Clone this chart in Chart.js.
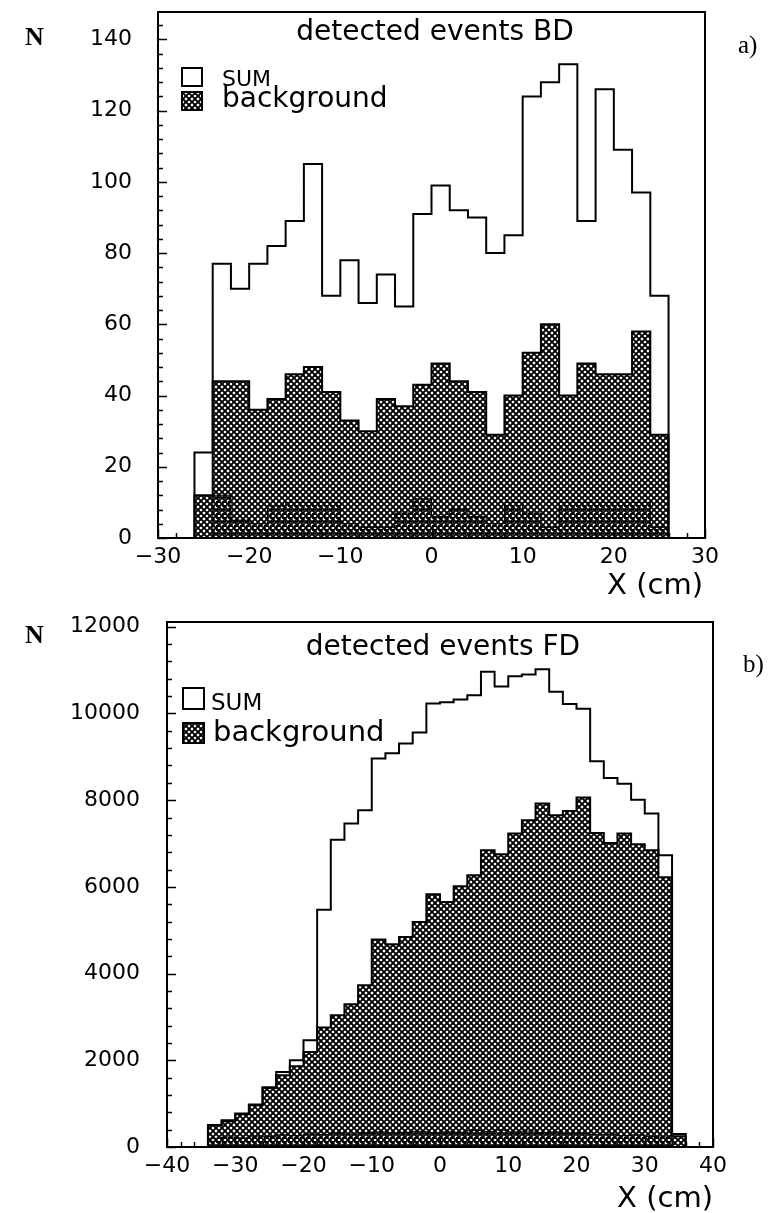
<!DOCTYPE html>
<html><head><meta charset="utf-8">
<script src="https://cdn.jsdelivr.net/npm/chart.js@4/dist/chart.umd.min.js"></script>
<style>
html,body{margin:0;padding:0;background:#fff;}
#wrap{position:relative;width:773px;height:1213px;overflow:hidden;background:#fff;}
canvas{position:absolute;left:0;}
svg{position:absolute;left:0;top:0;pointer-events:none;}
</style></head>
<body><div id="wrap">
<canvas id="ca" width="773" height="600" style="top:0px"></canvas>
<canvas id="cb" width="773" height="613" style="top:600px"></canvas>
<svg width="773" height="1213" xmlns="http://www.w3.org/2000/svg">
<defs>
<pattern id="xh" width="6" height="6" patternUnits="userSpaceOnUse">
<rect width="6" height="6" fill="#fff"/>
<path d="M-6,0L6,12M0,0L6,6M0,-6L12,6M0,6L6,0M-6,6L6,-6M0,12L12,0" stroke="#000" stroke-width="1.9"/>
</pattern>
</defs>
<g font-family="DejaVu Sans, sans-serif" fill="#000">
<text x="25" y="45" font-family="Liberation Serif, serif" font-weight="bold" font-size="26">N</text>
<text x="738" y="53" font-family="Liberation Serif, serif" font-size="25">a)</text>
<text x="435" y="40" text-anchor="middle" font-size="28">detected events BD</text>
<rect x="182" y="68" width="20" height="18" fill="#fff" stroke="#000" stroke-width="2"/>
<text x="222" y="86" font-size="22">SUM</text>
<rect x="182" y="92" width="20" height="18" fill="url(#xh)" stroke="#000" stroke-width="2"/>
<text x="222" y="107" font-size="28">background</text>
<text x="703" y="594" text-anchor="end" font-size="29">X (cm)</text>

<text x="25" y="643" font-family="Liberation Serif, serif" font-weight="bold" font-size="26">N</text>
<text x="743" y="672" font-family="Liberation Serif, serif" font-size="25">b)</text>
<text x="443" y="655" text-anchor="middle" font-size="28">detected events FD</text>
<rect x="183" y="688" width="21" height="21" fill="#fff" stroke="#000" stroke-width="2"/>
<text x="211" y="710" font-size="23">SUM</text>
<rect x="183" y="723" width="21" height="20" fill="url(#xh)" stroke="#000" stroke-width="2"/>
<text x="213" y="741" font-size="29">background</text>
<text x="713" y="1207" text-anchor="end" font-size="29">X (cm)</text>
</g>
</svg>
</div>
<script>
// ---------- panel a: detected events BD ----------
const binWidth = 2;
const aEdges = [-26,-24,-22,-20,-18,-16,-14,-12,-10,-8,-6,-4,-2,0,2,4,6,8,10,12,14,16,18,20,22,24];
const aSum   = [24,77,70,77,82,89,105,68,78,66,74,65,91,99,92,90,80,85,124,128,133,89,126,109,97,68];
const aBg    = [12,44,44,36,39,46,48,41,33,30,39,37,43,49,44,41,29,40,52,60,40,49,46,46,58,29];
const aLow   = [0,12,5,4,9,10,10,10,4,3,3,7,11,6,8,6,4,10,7,3,10,10,10,10,10,3];
const aXTickVals = [-30,-20,-10,0,10,20,30];
const aYTickVals = [0,20,40,60,80,100,120,140];
const aXTicks = {min:-30, max:30, step:10, minor:2};
const aYTicks = {min:0, max:147.7, step:20, minor:4};

// ---------- panel b: detected events FD ----------
const bEdges = [-34,-32,-30,-28,-26,-24,-22,-20,-18,-16,-14,-12,-10,-8,-6,-4,-2,0,2,4,6,8,10,12,14,16,18,20,22,24,26,28,30,32,34];
const bSum   = [510,615,770,980,1380,1730,2000,2460,5475,7090,7460,7770,8960,9080,9310,9560,10230,10260,10320,10420,10960,10620,10860,10900,11020,10500,10220,10110,8900,8510,8380,8010,7690,6730,300];
const bBg    = [500,593,754,962,1361,1654,1862,2191,2754,3038,3292,3730,4784,4676,4844,5190,5829,5652,6014,6268,6844,6752,7229,7536,7921,7651,7751,8060,7243,7013,7229,6983,6844,6221,250];
const bLow   = [200,230,210,250,240,280,260,300,290,320,300,330,350,320,340,360,330,350,340,380,360,390,350,370,330,350,310,320,290,300,260,280,240,230,0];
const bXTickVals = [-40,-30,-20,-10,0,10,20,30,40];
const bYTickVals = [0,2000,4000,6000,8000,10000,12000];
const bXTicks = {min:-40, max:40, step:10, minor:2};
const bYTicks = {min:0, max:12110, step:2000, minor:400};

function hist(edges, vals){
  const pts = [{x:edges[0], y:0}];
  edges.forEach((e,i)=>pts.push({x:e, y:vals[i]}));
  pts.push({x:edges[edges.length-1]+binWidth, y:0});
  return pts;
}
function crossHatch(){
  const c=document.createElement('canvas'); c.width=6; c.height=6;
  const g=c.getContext('2d'); g.fillStyle='#fff'; g.fillRect(0,0,6,6);
  g.strokeStyle='#000'; g.lineWidth=1.9; g.beginPath();
  for (const k of [-6,0,6]) { g.moveTo(k,0); g.lineTo(k+6,6); g.moveTo(k+6,0); g.lineTo(k,6); }
  g.stroke();
  return g.createPattern(c,'repeat');
}
function dashHatch(){
  const c=document.createElement('canvas'); c.width=6; c.height=4;
  const g=c.getContext('2d'); g.fillStyle='#000'; g.fillRect(0,1,4,1.8);
  return g.createPattern(c,'repeat');
}
const minus = v => (v<0 ? '\u2212'+Math.abs(v) : String(v));

const frameTicks = {
  id:'frameTicks',
  afterDatasetsDraw(chart, args, o){
    const {ctx, chartArea:{left,top,right,bottom}, scales:{x,y}} = chart;
    ctx.save(); ctx.strokeStyle='#000'; ctx.lineWidth=2;
    ctx.strokeRect(left, top, right-left, bottom-top);
    ctx.lineWidth=1.5;
    const isMaj=(v,s)=>Math.abs(v/s-Math.round(v/s))<1e-6;
    for (let v=o.y.min; v<=o.y.max+1e-9; v+=o.y.minor){
      const p=Math.round(y.getPixelForValue(v))+0.5;
      ctx.beginPath(); ctx.moveTo(left,p); ctx.lineTo(left+(isMaj(v,o.y.step)?9:5),p); ctx.stroke();
    }
    for (let v=o.x.min; v<=o.x.max+1e-9; v+=o.x.minor){
      const p=Math.round(x.getPixelForValue(v))+0.5;
      ctx.beginPath(); ctx.moveTo(p,bottom); ctx.lineTo(p,bottom-(isMaj(v,o.x.step)?9:5)); ctx.stroke();
    }
    ctx.restore();
  }
};

function makeChart(id, edges, sum, bg, low, xt, yt, xVals, yVals, geo){
  const ctx=document.getElementById(id).getContext('2d');
  const font={family:'DejaVu Sans', size:22, lineHeight:1};
  return new Chart(ctx,{
    type:'line',
    data:{datasets:[
      {label:'SUM', data:hist(edges,sum), stepped:true, borderColor:'#000', borderWidth:2, fill:false, pointRadius:0, order:0},
      {label:'low', data:hist(edges,low), stepped:true, borderColor:'#000', borderWidth:1, backgroundColor:dashHatch(), fill:'origin', pointRadius:0, order:1},
      {label:'background', data:hist(edges,bg), stepped:true, borderColor:'#000', borderWidth:2, backgroundColor:crossHatch(), fill:'origin', pointRadius:0, order:2}
    ]},
    options:{
      responsive:false, animation:false, events:[],
      layout:{autoPadding:false, padding:{left:0, top:geo.top, right:geo.right, bottom:0}},
      plugins:{legend:{display:false}, tooltip:{enabled:false}, frameTicks:{x:xt, y:yt}},
      scales:{
        x:{type:'linear', min:xt.min, max:xt.max,
           afterBuildTicks:s=>{s.ticks=xVals.map(v=>({value:v}));},
           ticks:{callback:minus, font, color:'#000', padding:geo.xpad, maxRotation:0, autoSkip:false},
           grid:{display:false}, border:{display:false},
           afterFit:s=>{s.height=geo.xh; s.paddingLeft=0; s.paddingRight=0;}},
        y:{type:'linear', min:yt.min, max:yt.max,
           afterBuildTicks:s=>{s.ticks=yVals.map(v=>({value:v}));},
           ticks:{callback:minus, font, color:'#000', padding:geo.ypad, autoSkip:false},
           grid:{display:false}, border:{display:false},
           afterFit:s=>{s.width=geo.yw; s.paddingTop=0; s.paddingBottom=0;}}
      }
    },
    plugins:[frameTicks]
  });
}
makeChart('ca', aEdges, aSum, aBg, aLow, aXTicks, aYTicks, aXTickVals, aYTickVals, {top:12, right:68, xh:62, yw:158, xpad:0, ypad:18});
makeChart('cb', bEdges, bSum, bBg, bLow, bXTicks, bYTicks, bXTickVals, bYTickVals, {top:22, right:60, xh:66, yw:167, xpad:0, ypad:19});
</script>
</body></html>
